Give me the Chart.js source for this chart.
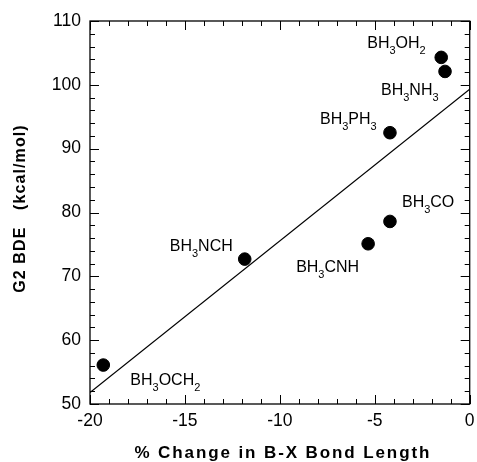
<!DOCTYPE html>
<html>
<head>
<meta charset="utf-8">
<script src="https://cdn.jsdelivr.net/npm/chart.js@4.4.1/dist/chart.umd.min.js"></script>
<style>
  html, body { margin: 0; padding: 0; background: #fff; }
  #wrap { width: 477px; height: 462px; }
</style>
</head>
<body>
<div id="wrap"><canvas id="bde" width="477" height="462"></canvas></div>
<script>
const molecules = ["BH_3OH_2", "BH_3NH_3", "BH_3PH_3", "BH_3CO", "BH_3CNH", "BH_3NCH", "BH_3OCH_2"];
const bondChange = [-1.5, -1.3, -4.2, -4.2, -5.35, -11.85, -19.3];
const g2BDE = [104.3, 102.1, 92.5, 78.6, 75.1, 72.7, 56.1];
// label offset from its point, px (left edge, baseline)
const labelDX = [-74, -64, -70, 12, -72, -75, 27];
const labelDY = [-9, 24, -9, -14, 28, -8, 20];

// least squares line as drawn
const fitX = [-20, 0];
const fitY = [51.8, 99.3];

const xMajor = [-20, -15, -10, -5, 0];
const yMajor = [50, 60, 70, 80, 90, 100, 110];

const FONT = "'Liberation Sans', Arial, Helvetica, sans-serif";

function drawChem(ctx, text, x, y) {
  let cx = x;
  for (let i = 0; i < text.length; i++) {
    let ch = text[i];
    if (ch === "_") {
      ch = text[++i];
      ctx.font = "11px " + FONT;
      ctx.fillText(ch, cx, y + 6);
    } else {
      ctx.font = "16px " + FONT;
      ctx.fillText(ch, cx, y);
    }
    cx += ctx.measureText(ch).width;
  }
}

const frame = {
  id: "frame",
  afterDatasetsDraw(chart) {
    const { ctx, chartArea: a, scales: { x, y } } = chart;
    ctx.save();
    ctx.strokeStyle = "#000";
    ctx.lineWidth = 1.3;
    ctx.strokeRect(a.left, a.top, a.right - a.left, a.bottom - a.top);

    // inward ticks on all four sides
    ctx.lineWidth = 1;
    ctx.beginPath();
    for (let v = -20; v <= 0; v++) {
      const px = Math.round(x.getPixelForValue(v)) + 0.5;
      const len = v % 5 === 0 ? 9 : 5;
      ctx.moveTo(px, a.bottom); ctx.lineTo(px, a.bottom - len);
      ctx.moveTo(px, a.top); ctx.lineTo(px, a.top + len);
    }
    for (let v = 50; v <= 110; v += 2) {
      const py = Math.round(y.getPixelForValue(v)) + 0.5;
      const len = v % 10 === 0 ? 9 : 5;
      ctx.moveTo(a.left, py); ctx.lineTo(a.left + len, py);
      ctx.moveTo(a.right, py); ctx.lineTo(a.right - len, py);
    }
    ctx.stroke();

    // point labels
    ctx.fillStyle = "#000";
    ctx.textBaseline = "alphabetic";
    ctx.textAlign = "left";
    molecules.forEach((m, i) => {
      const px = x.getPixelForValue(bondChange[i]);
      const py = y.getPixelForValue(g2BDE[i]);
      drawChem(ctx, m, px + labelDX[i], py + labelDY[i]);
    });

    // axis titles
    ctx.textAlign = "center";
    ctx.textBaseline = "middle";
    ctx.font = "bold 17px " + FONT;
    ctx.letterSpacing = "1.9px";
    ctx.fillText("% Change in B-X Bond Length", (a.left + a.right) / 2 + 3, 453);
    ctx.save();
    ctx.translate(21, (a.top + a.bottom) / 2 - 4);
    ctx.rotate(-Math.PI / 2);
    ctx.font = "bold 16px " + FONT;
    ctx.letterSpacing = "1.1px";
    ctx.fillText("G2 BDE   (kcal/mol)", 0, 0);
    ctx.restore();
    ctx.restore();
  }
};

function fixPad(s) {
  s.paddingLeft = 0;
  s.paddingRight = 0;
  s.paddingTop = 0;
  s.paddingBottom = 0;
}

new Chart(document.getElementById("bde"), {
  type: "scatter",
  data: {
    datasets: [
      {
        type: "line",
        data: fitX.map((v, i) => ({ x: v, y: fitY[i] })),
        borderColor: "#000",
        borderWidth: 1.2,
        pointRadius: 0,
        fill: false
      },
      {
        data: bondChange.map((v, i) => ({ x: v, y: g2BDE[i] })),
        backgroundColor: "#000",
        borderColor: "#000",
        pointRadius: 6.3,
        pointHoverRadius: 6.3
      }
    ]
  },
  options: {
    responsive: false,
    animation: false,
    events: [],
    layout: { padding: { top: 21, right: 6, left: 0, bottom: 0 } },
    plugins: { legend: { display: false }, tooltip: { enabled: false } },
    scales: {
      x: {
        type: "linear",
        min: -20, max: 0,
        grid: { display: false, drawTicks: false },
        border: { display: false },
        afterBuildTicks: s => { s.ticks = xMajor.map(v => ({ value: v })); },
        afterFit: s => { s.height = 58; fixPad(s); },
        ticks: {
          color: "#000",
          padding: 7,
          maxRotation: 0,
          font: { family: FONT, size: 17.5 }
        }
      },
      y: {
        type: "linear",
        min: 50, max: 110,
        grid: { display: false, drawTicks: false },
        border: { display: false },
        afterBuildTicks: s => { s.ticks = yMajor.map(v => ({ value: v })); },
        afterFit: s => { s.width = 90; fixPad(s); },
        ticks: {
          color: "#000",
          padding: 9,
          font: { family: FONT, size: 17.5 }
        }
      }
    }
  },
  plugins: [frame]
});
</script>
</body>
</html>
